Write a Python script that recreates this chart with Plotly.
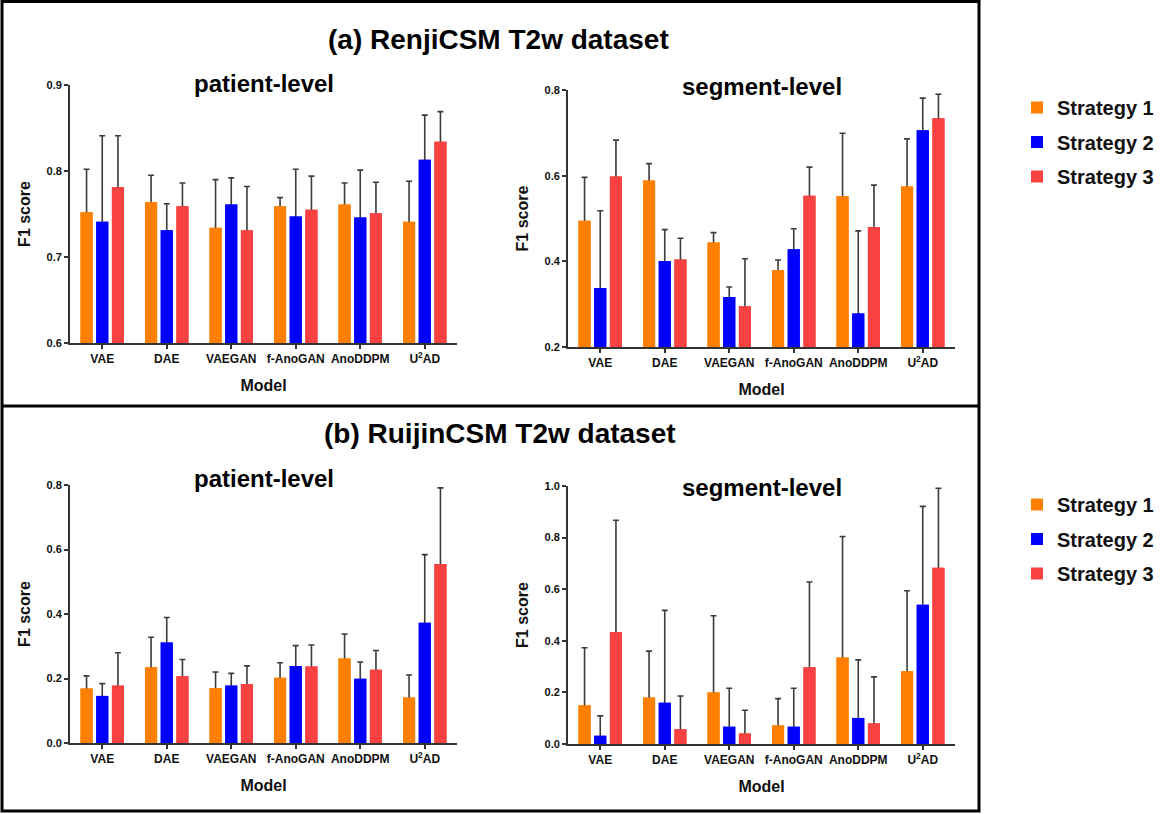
import plotly.graph_objects as go

# ---------------- data ----------------
models = ["VAE", "DAE", "VAEGAN", "f-AnoGAN", "AnoDDPM", "U2AD"]
model_labels = ["VAE", "DAE", "VAEGAN", "f-AnoGAN", "AnoDDPM", "U<sup>2</sup>AD"]
strategies = ["Strategy 1", "Strategy 2", "Strategy 3"]

# (a) RenjiCSM, patient-level (mean, sd)
renji_patient_s1 = [0.752, 0.764, 0.734, 0.759, 0.761, 0.741]
renji_patient_s1_sd = [0.050, 0.031, 0.056, 0.010, 0.025, 0.047]
renji_patient_s2 = [0.741, 0.731, 0.761, 0.747, 0.746, 0.813]
renji_patient_s2_sd = [0.100, 0.031, 0.031, 0.055, 0.055, 0.052]
renji_patient_s3 = [0.781, 0.759, 0.731, 0.755, 0.751, 0.834]
renji_patient_s3_sd = [0.060, 0.027, 0.051, 0.039, 0.036, 0.035]

# (a) RenjiCSM, segment-level
renji_segment_s1 = [0.495, 0.589, 0.444, 0.380, 0.552, 0.575]
renji_segment_s1_sd = [0.101, 0.039, 0.023, 0.023, 0.147, 0.111]
renji_segment_s2 = [0.338, 0.401, 0.317, 0.428, 0.278, 0.706]
renji_segment_s2_sd = [0.180, 0.073, 0.023, 0.048, 0.193, 0.075]
renji_segment_s3 = [0.598, 0.404, 0.295, 0.553, 0.480, 0.734]
renji_segment_s3_sd = [0.085, 0.050, 0.111, 0.067, 0.098, 0.056]

# (b) RuijinCSM, patient-level
ruijin_patient_s1 = [0.169, 0.235, 0.170, 0.202, 0.262, 0.141]
ruijin_patient_s1_sd = [0.039, 0.093, 0.050, 0.047, 0.076, 0.070]
ruijin_patient_s2 = [0.146, 0.312, 0.178, 0.239, 0.199, 0.373]
ruijin_patient_s2_sd = [0.038, 0.077, 0.038, 0.063, 0.052, 0.211]
ruijin_patient_s3 = [0.178, 0.207, 0.183, 0.237, 0.227, 0.555]
ruijin_patient_s3_sd = [0.102, 0.052, 0.056, 0.067, 0.060, 0.236]

# (b) RuijinCSM, segment-level
ruijin_segment_s1 = [0.150, 0.180, 0.200, 0.072, 0.335, 0.282]
ruijin_segment_s1_sd = [0.223, 0.180, 0.297, 0.104, 0.469, 0.312]
ruijin_segment_s2 = [0.032, 0.160, 0.067, 0.067, 0.101, 0.540]
ruijin_segment_s2_sd = [0.077, 0.358, 0.149, 0.149, 0.225, 0.381]
ruijin_segment_s3 = [0.433, 0.057, 0.041, 0.297, 0.080, 0.683]
ruijin_segment_s3_sd = [0.434, 0.129, 0.090, 0.331, 0.180, 0.308]

colors = ["#FF7F00", "#0000FF", "#F84242"]

W, H = 1162, 814
FONT = "Liberation Sans, Arial, sans-serif"


def px_x(v):
    return v / W


def px_y(v):
    return 1 - v / H


panels = [
    dict(ax="", means=[renji_patient_s1, renji_patient_s2, renji_patient_s3],
         sds=[renji_patient_s1_sd, renji_patient_s2_sd, renji_patient_s3_sd],
         xd=(70, 457), yd=(85, 343), rng=[0.6, 0.9], dtick=0.1, legend="legend"),
    dict(ax="2", means=[renji_segment_s1, renji_segment_s2, renji_segment_s3],
         sds=[renji_segment_s1_sd, renji_segment_s2_sd, renji_segment_s3_sd],
         xd=(568, 955), yd=(90, 347), rng=[0.2, 0.8], dtick=0.2, legend=None),
    dict(ax="3", means=[ruijin_patient_s1, ruijin_patient_s2, ruijin_patient_s3],
         sds=[ruijin_patient_s1_sd, ruijin_patient_s2_sd, ruijin_patient_s3_sd],
         xd=(70, 457), yd=(485, 743), rng=[0.0, 0.8], dtick=0.2, legend="legend2"),
    dict(ax="4", means=[ruijin_segment_s1, ruijin_segment_s2, ruijin_segment_s3],
         sds=[ruijin_segment_s1_sd, ruijin_segment_s2_sd, ruijin_segment_s3_sd],
         xd=(568, 955), yd=(486, 744), rng=[0.0, 1.0], dtick=0.2, legend=None),
]

fig = go.Figure()

for p in panels:
    xa = "x" + p["ax"]
    ya = "y" + p["ax"]
    for i in range(3):
        # bar with error bar (lower half hidden by the covering bar below)
        fig.add_trace(go.Bar(
            x=models, y=p["means"][i], xaxis=xa, yaxis=ya,
            offsetgroup=str(i), marker=dict(color=colors[i], line=dict(width=0)),
            error_y=dict(type="data", array=p["sds"][i], visible=True,
                         color="#3c3c3c", thickness=1.6, width=3),
            showlegend=False, hoverinfo="skip",
        ))
    for i in range(3):
        fig.add_trace(go.Bar(
            x=models, y=p["means"][i], xaxis=xa, yaxis=ya,
            offsetgroup=str(i), marker=dict(color=colors[i], line=dict(width=0)),
            name=strategies[i],
            showlegend=p["legend"] is not None,
            legend=p["legend"] if p["legend"] else "legend",
            legendgroup=(p["legend"] or "l") + str(i),
        ))

axis_common = dict(showline=True, linecolor="#333333", linewidth=1.8,
                   showgrid=False, zeroline=False, ticks="outside",
                   ticklen=4, tickwidth=1.5, tickcolor="#333333",
                   automargin=False)

layout = dict(
    width=W, height=H,
    margin=dict(l=0, r=0, t=0, b=0, pad=0, autoexpand=False),
    paper_bgcolor="white", plot_bgcolor="white",
    barmode="group", bargap=0.27, bargroupgap=0.23,
    font=dict(family=FONT, color="#111111"),
)

for p in panels:
    s = p["ax"]
    layout["xaxis" + s] = dict(
        axis_common,
        domain=[px_x(p["xd"][0]), px_x(p["xd"][1])],
        anchor="y" + s,
        type="category",
        tickmode="array", tickvals=models, ticktext=model_labels,
        tickfont=dict(size=12, weight="bold", family=FONT, color="#111111"),
        title=dict(text="Model", standoff=15,
                   font=dict(size=16, weight="bold", family=FONT, color="#111111")),
    )
    layout["yaxis" + s] = dict(
        axis_common,
        domain=[px_y(p["yd"][1]), px_y(p["yd"][0])],
        anchor="x" + s,
        range=p["rng"], dtick=p["dtick"], tick0=0, tickformat=".1f",
        tickfont=dict(size=11, weight="bold", family=FONT, color="#111111"),
        title=dict(text="F1 score", standoff=12,
                   font=dict(size=16, weight="bold", family=FONT, color="#111111")),
    )

legend_common = dict(
    xanchor="left", yanchor="top", bgcolor="rgba(0,0,0,0)",
    font=dict(size=20, weight="bold", family=FONT, color="#111111"),
    tracegroupgap=5.5, itemwidth=30,
)
layout["legend"] = dict(legend_common, x=px_x(1017), y=px_y(88))
layout["legend2"] = dict(legend_common, x=px_x(1017), y=px_y(485))

fig.update_layout(**layout)

annotations = [
    dict(text="(a) RenjiCSM T2w dataset", x=px_x(498), y=px_y(40), size=28),
    dict(text="(b) RuijinCSM T2w dataset", x=px_x(500), y=px_y(433), size=28),
    dict(text="patient-level", x=px_x(264), y=px_y(83), size=24),
    dict(text="segment-level", x=px_x(762), y=px_y(86), size=24),
    dict(text="patient-level", x=px_x(264), y=px_y(478), size=24),
    dict(text="segment-level", x=px_x(762), y=px_y(488), size=24),
]
for a in annotations:
    fig.add_annotation(text=a["text"], x=a["x"], y=a["y"], xref="paper", yref="paper",
                       xanchor="center", yanchor="middle", showarrow=False,
                       font=dict(size=a["size"], weight="bold", family=FONT, color="#000000"))

# frame around the two panels and the divider
fig.add_shape(type="rect", xref="paper", yref="paper",
              x0=px_x(2), x1=px_x(979), y0=px_y(811), y1=px_y(1.5),
              line=dict(color="black", width=3))
fig.add_shape(type="line", xref="paper", yref="paper",
              x0=px_x(2), x1=px_x(979), y0=px_y(406), y1=px_y(406),
              line=dict(color="black", width=3))

fig.write_html("out.html")
